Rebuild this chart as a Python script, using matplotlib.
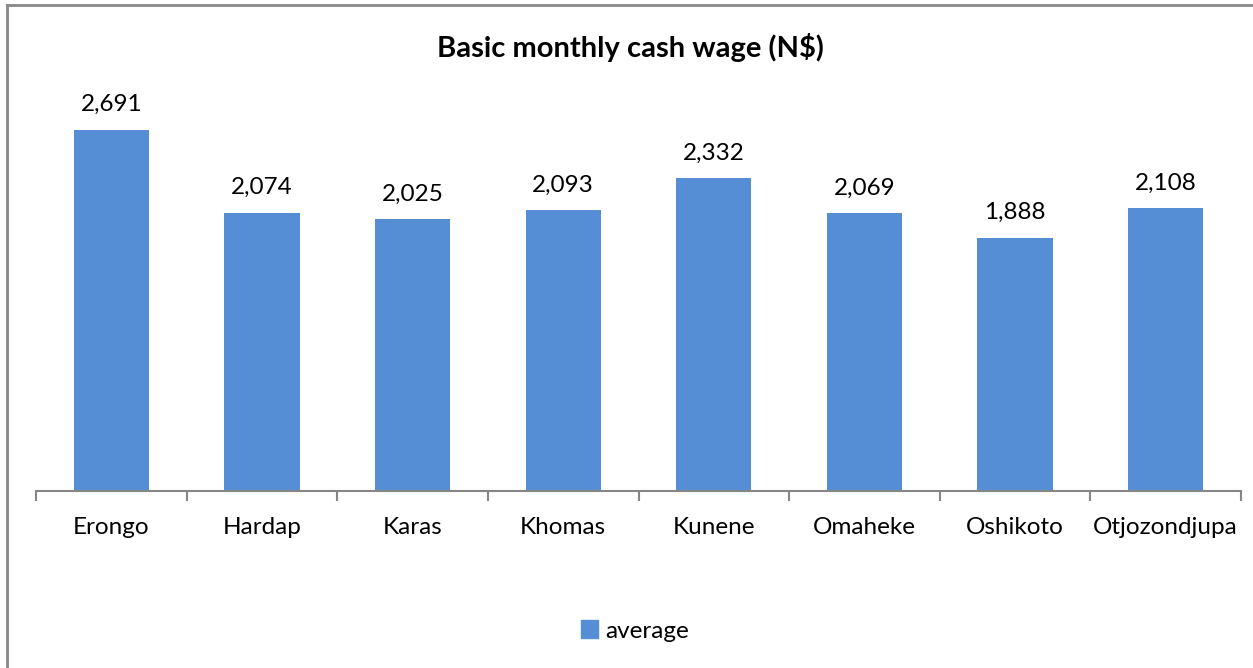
import matplotlib
matplotlib.use("Agg")
import matplotlib.pyplot as plt
from matplotlib.lines import Line2D
from matplotlib.patches import Patch

regions = ["Erongo", "Hardap", "Karas", "Khomas", "Kunene", "Omaheke", "Oshikoto", "Otjozondjupa"]
average = [2691, 2074, 2025, 2093, 2332, 2069, 1888, 2108]
title = "Basic monthly cash wage (N$)"
series_name = "average"

plt.rcParams['font.family'] = ['Lato', 'DejaVu Sans']
W, H = 1253, 668
fig = plt.figure(figsize=(W / 100, H / 100), dpi=100)
ax = fig.add_axes([36 / W, 1 - 491 / H, (1241 - 36) / W, (491 - 88.5) / H])

color = "#558ED5"
fs = 17.5
x = list(range(len(regions)))
bars = ax.bar(x, average, width=0.5, color=color, label=series_name)
ax.set_xlim(-0.5, len(regions) - 0.5)
ax.set_ylim(0, 3000)
for xi, v in zip(x, average):
    ax.text(xi, v + 110, f"{v:,}", ha="center", va="bottom", fontsize=fs, color="#000000")

for s in ["top", "right", "left"]:
    ax.spines[s].set_visible(False)
ax.spines["bottom"].set_color("#868686")
ax.spines["bottom"].set_linewidth(1.5)
ax.set_yticks([])
ax.set_xticks([i - 0.5 for i in range(len(regions) + 1)], minor=False)
ax.set_xticklabels([])
ax.tick_params(axis="x", which="major", length=7, color="#868686", width=1.5, direction="out")
ax.set_xticks(x, minor=True)
ax.set_xticklabels(regions, minor=True, fontsize=fs)
ax.tick_params(axis="x", which="minor", length=0, pad=19)

fig.text(630 / W, 1 - 47 / H, title, ha="center", va="center", fontsize=21, fontweight="bold")

fig.legend(handles=[Patch(color=color, label=series_name)], loc="center",
           bbox_to_anchor=(635 / W, 1 - 631 / H), frameon=False, fontsize=fs,
           handlelength=0.7, handleheight=0.7, handletextpad=0.3)

fig.add_artist(Line2D([6.5 / W, 6.5 / W], [0, 1 - 4.5 / H], transform=fig.transFigure, color="#888888", lw=2))
fig.add_artist(Line2D([6.5 / W, 1], [1 - 4.5 / H, 1 - 4.5 / H], transform=fig.transFigure, color="#888888", lw=2))

fig.savefig("out.png", dpi=100)
